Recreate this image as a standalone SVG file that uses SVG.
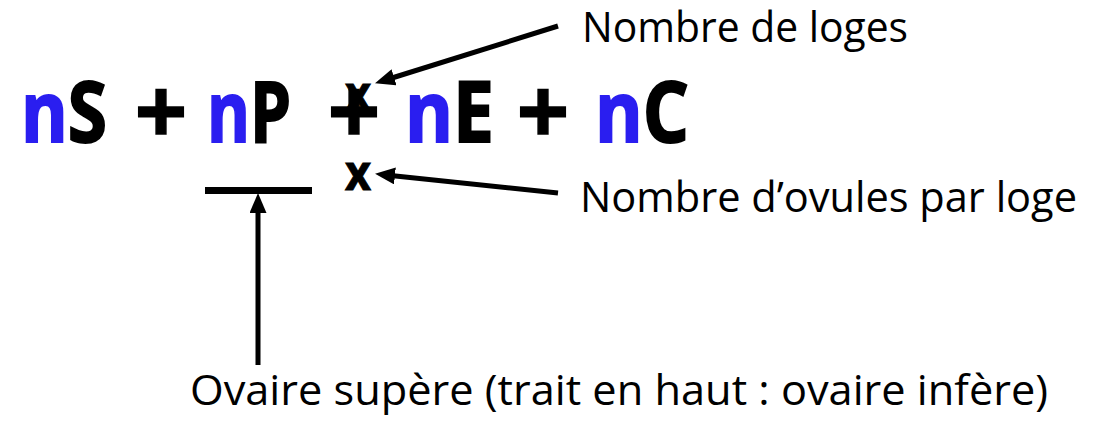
<svg xmlns="http://www.w3.org/2000/svg" width="1096" height="426" viewBox="0 0 1096 426">
<style>
.f{font-family:"Open Sans","Noto Sans","Liberation Sans",sans-serif;}
.big{font-size:84px;font-weight:bold;fill:#000;stroke:#000;stroke-width:2;}
.plus{font-size:92px;font-weight:bold;fill:#000;stroke:#000;stroke-width:1.5;}
.blue{fill:#2a1ef0;stroke:#2a1ef0;}
.lbl{font-size:42px;fill:#000;}
.xs{font-size:50px;font-weight:bold;fill:#000;stroke:#000;stroke-width:1;}
.ln{stroke:#000;stroke-width:5;fill:none;}
</style>
<defs>
<marker id="ah" markerUnits="userSpaceOnUse" markerWidth="20" markerHeight="17" refX="9" refY="8.5" orient="auto">
<path d="M0,0 L20,8.5 L0,17 z" fill="#000"/>
</marker>
</defs>
<rect width="1096" height="426" fill="#fff"/>
<g id="formula" class="f">
<text class="big" x="21" y="142" textLength="86" lengthAdjust="spacingAndGlyphs"><tspan class="blue">n</tspan>S</text>
<text class="plus" x="161" y="144" text-anchor="middle">+</text>
<text class="big" x="207" y="142" textLength="84" lengthAdjust="spacingAndGlyphs"><tspan class="blue">n</tspan>P</text>
<text class="plus" x="354" y="144" text-anchor="middle">+</text>
<text class="big" x="405" y="142" textLength="89" lengthAdjust="spacingAndGlyphs"><tspan class="blue">n</tspan>E</text>
<text class="plus" x="543" y="144" text-anchor="middle">+</text>
<text class="big" x="595" y="142" textLength="94" lengthAdjust="spacingAndGlyphs"><tspan class="blue">n</tspan>C</text>
</g>
<g id="x-top" class="f"><text class="xs" x="345" y="111" textLength="26" lengthAdjust="spacingAndGlyphs">x</text></g>
<g id="x-bottom" class="f"><text class="xs" x="345" y="190" textLength="26" lengthAdjust="spacingAndGlyphs">x</text></g>
<g id="bar"><rect x="205" y="187" width="107" height="7" fill="#000"/></g>
<g id="label-loges" class="f"><text class="lbl" x="582" y="42" textLength="326" lengthAdjust="spacingAndGlyphs">Nombre de loges</text></g>
<g id="label-ovules" class="f"><text class="lbl" x="580" y="212" textLength="497" lengthAdjust="spacingAndGlyphs">Nombre d’ovules par loge</text></g>
<g id="label-ovaire" class="f"><text class="lbl" x="190" y="405" textLength="858" lengthAdjust="spacingAndGlyphs">Ovaire supère (trait en haut : ovaire infère)</text></g>
<g id="connectors">
<line class="ln" x1="558" y1="26" x2="385.5" y2="80" marker-end="url(#ah)"/>
<line class="ln" x1="558" y1="193" x2="386" y2="175" marker-end="url(#ah)"/>
<line class="ln" x1="258" y1="365" x2="258" y2="204" stroke-width="6" marker-end="url(#ah)"/>
</g>
</svg>
